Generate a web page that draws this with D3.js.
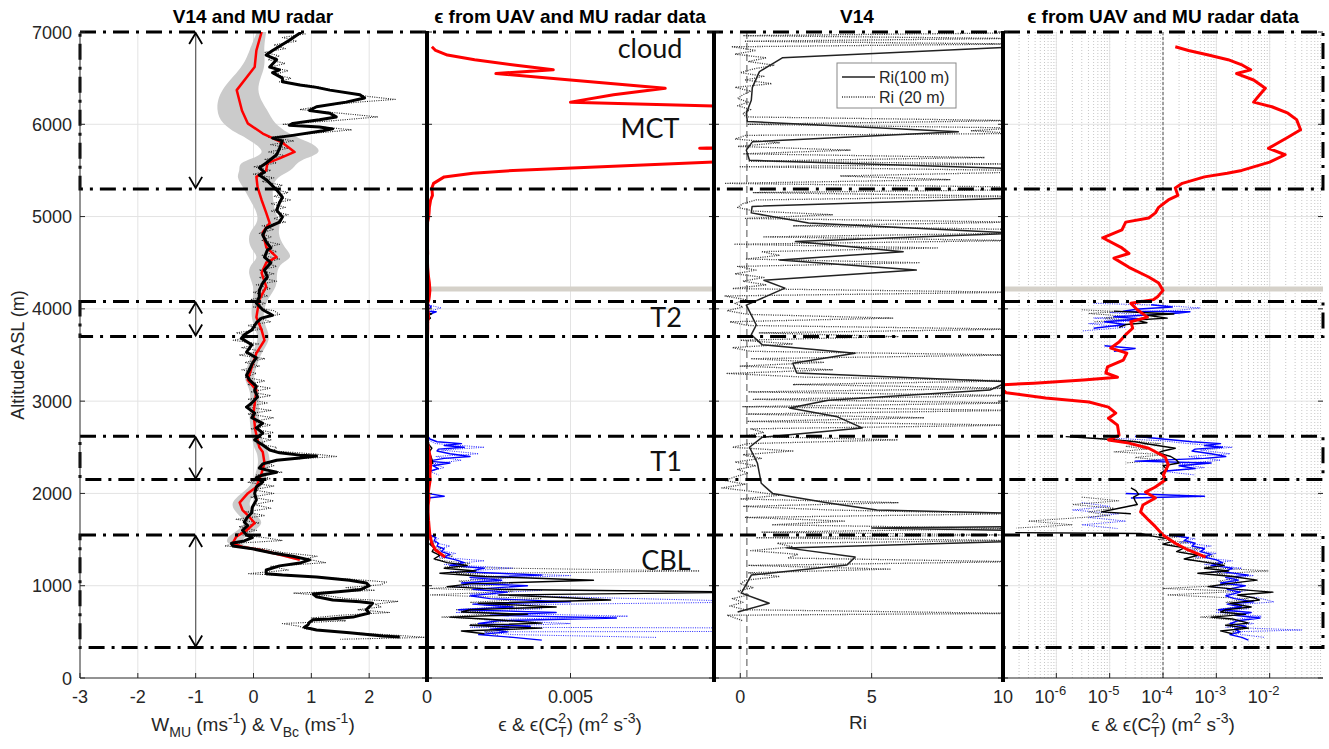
<!DOCTYPE html>
<html>
<head>
<meta charset="utf-8">
<script src="https://cdn.jsdelivr.net/npm/d3@7"></script>
<style>
  body { margin: 0; background: #fff; }
  svg { display: block; }
  text { font-family: "Liberation Sans", Arial, sans-serif; fill: #262626; }
</style>
</head>
<body>
<svg id="chart" width="1329" height="749"></svg>
<script>
// --- --- --- Data --- --- ---

const altTicks = [0, 1000, 2000, 3000, 4000, 5000, 6000, 7000];
const wTicks = [-3, -2, -1, 0, 1, 2];
const epsLinTicks = [0, 0.005];
const riTicks = [0, 5, 10];
const epsLogExps = [-6, -5, -4, -3, -2];

// layer boxes (bottom, top) in m ASL
const layerBoxes = [[5300, 7000], [3700, 4080], [2150, 2620], [330, 1550]];
const grayLineAlt = 4215;
const riCritical = 0.25;
const epsRef = 1e-4;

// annotations
const layerNames = ["cloud", "MCT", "T2", "T1", "CBL"];
const layerNameAlt = [6720, 5850, 3800, 2240, 1170];

// MU radar W: [alt, mean, std]
const wmu = [
  [7000,0.14,0.08],[6800,0.05,0.12],[6620,0.02,0.2],[6370,-0.29,0.3],[6150,-0.2,0.45],[6010,-0.1,0.45],
  [5900,0.16,0.45],[5850,0.33,0.45],[5800,0.5,0.5],[5700,0.71,0.5],[5630,0.45,0.45],[5580,0.24,0.5],
  [5500,0.22,0.45],[5430,0.05,0.35],[5320,0.07,0.25],[5180,0.14,0.2],[5040,0.22,0.15],[4930,0.28,0.2],
  [4830,0.16,0.25],[4670,0.22,0.3],[4560,0.4,0.3],[4500,0.22,0.25],[4390,0.14,0.25],[4240,0.22,0.2],
  [4100,0.1,0.12],[3910,0.05,0.1],[3770,0.14,0.1],[3660,0.19,0.1],[3520,0.05,0.08],[3370,-0.03,0.08],
  [3230,-0.1,0.08],[3120,0.05,0.08],[2870,0,0.08],[2690,0.03,0.08],[2500,0.1,0.1],[2450,0.16,0.1],
  [2330,0.19,0.1],[2220,0.14,0.1],[2070,0.05,0.1],[2000,-0.1,0.12],[1900,-0.24,0.15],[1820,-0.19,0.15],
  [1745,-0.07,0.15],[1680,0.02,0.15],[1600,-0.12,0.15],[1530,-0.3,0.15],[1460,-0.36,0.12],[1420,-0.19,0.1],
  [1390,0.1,0.1],[1330,0.5,0.1],[1280,0.8,0.1]
];

// UAV V_Bc, 100 m: [alt, value]
const vbc100 = [
  [7000,0.83],[6910,0.62],[6800,0.33],[6750,0.22],[6700,0.4],[6620,0.28],[6590,0.45],[6560,0.33],[6500,0.5],
  [6460,0.5],[6425,0.8],[6400,1.09],[6370,1.32],[6320,1.84],[6285,1.92],[6240,1.6],[6190,1.09],[6150,0.97],
  [6120,1.32],[6080,1.43],[6050,1.14],[6010,0.68],[5990,0.62],[5970,1.14],[5950,1.37],[5930,1.2],[5880,0.68],
  [5850,0.33],[5820,0.5],[5740,0.45],[5670,0.4],[5580,0.22],[5530,0.1],[5480,0.19],[5450,0.1],[5400,0.22],
  [5290,0.4],[5210,0.5],[5150,0.45],[5070,0.4],[4995,0.5],[4940,0.45],[4875,0.22],[4800,0.16],[4725,0.22],
  [4660,0.3],[4637,0.24],[4560,0.19],[4500,0.3],[4420,0.19],[4345,0.24],[4280,0.16],[4200,0.1],[4130,0.1],
  [4060,0.05],[3990,0.16],[3930,0.33],[3900,0.14],[3850,0.05],[3770,-0.03],[3720,-0.16],[3680,-0.21],
  [3610,-0.03],[3530,-0.12],[3470,0.05],[3410,-0.02],[3340,-0.07],[3280,-0.12],[3230,-0.07],[3160,0.05],
  [3120,0.02],[3045,0.07],[2980,-0.03],[2935,-0.12],[2870,0.02],[2820,-0.03],[2760,0.16],[2710,0.05],
  [2655,0.16],[2580,0.02],[2525,0.16],[2470,0.28],[2440,0.45],[2415,0.8],[2405,1.09],[2385,0.8],[2360,0.4],
  [2320,0.16],[2275,0.1],[2255,0.22],[2230,0.4],[2200,0.16],[2170,0.05],[2125,0.16],[2070,0.05],[2000,0.02],
  [1930,0.05],[1850,-0.02],[1790,-0.03],[1745,-0.1],[1690,-0.16],[1650,-0.1],[1600,-0.19],[1550,-0.12],
  [1520,-0.02],[1485,-0.16],[1460,-0.38],[1430,-0.36],[1400,-0.02],[1355,0.33],[1320,0.68],[1280,0.97],
  [1245,0.8],[1215,0.45],[1170,0.22],[1130,0.22],[1115,0.5],[1095,1.09],[1060,1.66],[1030,1.95],[1000,2.0],
  [955,1.84],[930,1.37],[910,1.03],[880,1.09],[845,1.37],[825,1.84],[810,2.06],[770,2.0],[740,1.95],[705,2.0],
  [660,1.72],[640,1.32],[630,1.03],[605,0.97],[575,0.94],[550,0.88],[520,1.09],[490,1.66],[455,2.24],[445,2.53]
];

// UAV V_Bc, 20 m
const vbc20 = [
  [6980,0.9],[6940,0.5],[6900,0.75],[6860,0.35],[6820,0.55],[6780,0.2],[6740,0.45],[6700,0.25],[6660,0.55],
  [6620,0.3],[6580,0.6],[6540,0.35],[6500,0.65],[6460,0.45],[6420,1.0],[6380,1.3],[6340,1.6],[6300,2.0],
  [6270,2.45],[6240,1.8],[6200,1.2],[6160,0.8],[6120,1.5],[6080,2.15],[6040,1.4],[6000,0.5],[5970,1.2],
  [5940,1.7],[5900,1.0],[5860,0.25],[5820,0.7],[5780,0.3],[5740,0.6],[5700,0.25],[5660,0.55],[5620,0.2],
  [5580,0.4],[5540,0.0],[5500,0.3],[5460,0.0],[5420,0.35],[5380,0.15],[5340,0.5],[5300,0.3],[5260,0.6],
  [5220,0.35],[5180,0.65],[5140,0.3],[5100,0.55],[5060,0.3],[5020,0.6],[4980,0.35],[4940,0.55],[4900,0.15],
  [4860,0.35],[4820,0.1],[4780,0.3],[4740,0.15],[4700,0.45],[4660,0.2],[4620,0.4],[4580,0.15],[4540,0.45],
  [4500,0.2],[4460,0.4],[4420,0.1],[4380,0.35],[4340,0.1],[4300,0.4],[4260,0.05],[4220,0.3],[4180,0.0],
  [4140,0.25],[4100,-0.05],[4060,0.2],[4020,0.0],[3980,0.35],[3940,0.45],[3900,0.1],[3860,0.3],[3820,-0.1],
  [3780,0.15],[3740,-0.3],[3700,0.0],[3660,-0.35],[3620,0.1],[3580,-0.2],[3540,0.15],[3500,-0.25],[3460,0.2],
  [3420,-0.15],[3380,0.1],[3340,-0.2],[3300,0.05],[3260,-0.15],[3220,0.2],[3180,-0.1],[3140,0.3],[3100,-0.05],
  [3060,0.3],[3020,-0.1],[2980,0.25],[2940,-0.15],[2900,0.3],[2860,-0.1],[2820,0.35],[2780,0.0],[2740,0.3],
  [2700,-0.05],[2660,0.35],[2620,0.0],[2580,0.3],[2540,0.05],[2500,0.4],[2460,0.35],[2430,1.0],[2400,1.45],
  [2370,0.6],[2340,0.2],[2300,0.35],[2260,0.1],[2230,0.5],[2200,0.05],[2160,0.3],[2120,-0.1],[2080,0.35],
  [2040,0.0],[2000,0.35],[1960,-0.05],[1920,0.35],[1880,0.0],[1840,0.3],[1800,-0.15],[1760,0.2],[1720,-0.3],
  [1680,0.1],[1640,-0.25],[1600,0.05],[1560,-0.3],[1520,0.2],[1490,0.5],[1460,-0.3],[1430,-0.5],[1400,0.2],
  [1360,0.5],[1320,1.1],[1290,0.9],[1250,1.25],[1210,0.3],[1170,0.6],[1130,-0.1],[1100,0.9],[1070,1.7],
  [1040,2.3],[1010,2.2],[980,1.6],[950,2.1],[920,0.7],[890,1.3],[860,1.6],[830,2.5],[800,2.1],[770,2.2],
  [740,1.8],[710,2.35],[680,1.5],[650,1.0],[620,1.6],[590,0.5],[560,0.8],[530,0.9],[500,1.4],[470,2.3],
  [440,3.0],[420,1.5]
];

// MU radar epsilon (m2 s-3)
const epsMU = [
  [6840,1.7e-4],[6800,3.0e-4],[6750,7.1e-4],[6700,1.66e-3],[6640,3.1e-3],[6590,4.4e-3],[6550,2.4e-3],
  [6480,5e-3],[6390,8.3e-3],[6320,6.5e-3],[6240,5e-3],[6190,1.1e-2],[6120,2.2e-2],[6050,3.2e-2],[5940,3.8e-2],
  [5860,2.2e-2],[5800,1.45e-2],[5740,9.5e-3],[5670,1.95e-2],[5590,1e-2],[5500,3e-3],[5470,1.6e-3],[5430,6e-4],
  [5360,2.3e-4],[5310,1.7e-4],[5230,1.9e-4],[5180,1.26e-4],[5100,8.3e-5],[5040,7.2e-5],[4985,5.4e-5],
  [4940,2e-5],[4855,1.7e-5],[4770,7.4e-6],[4660,1.7e-5],[4600,2.3e-5],[4550,1.2e-5],[4450,2.3e-5],
  [4345,5.4e-5],[4280,8.3e-5],[4200,1e-4],[4130,7.9e-5],[4100,6.6e-5],[4060,2.5e-5],[3990,3.3e-5],
  [3910,5.1e-5],[3860,2.5e-5],[3790,2.7e-5],[3720,2e-5],[3640,1.5e-5],[3575,1.05e-5],[3520,2.1e-5],
  [3445,1.8e-5],[3370,9.1e-6],[3305,8.5e-6],[3260,1.4e-5],[3230,3.2e-6],[3195,3.8e-7],[3175,8e-8],
  [3090,1.15e-7],[3035,6.3e-7],[2990,4.1e-6],[2935,9.5e-6],[2870,1.3e-5],[2815,9.5e-6],[2740,1.4e-5],
  [2630,1.5e-5],[2580,9.5e-6],[2545,2.3e-5],[2490,5.4e-5],[2395,1.1e-4],[2310,1.26e-4],[2200,1.02e-4],
  [2145,1.1e-4],[2070,7.2e-5],[2015,4.7e-5],[1950,7.2e-5],[1875,4.2e-5],[1800,3.8e-5],[1710,5.4e-5],
  [1640,7.2e-5],[1550,1e-4],[1460,1.7e-4],[1390,2.9e-4],[1310,6.3e-4]
];

// UAV epsilon, 100 m (null = gap)
const epsUav100 = [
  [3975,1.2e-5],[3960,4e-5],[3945,1.6e-4],[3930,5e-5],[3900,1.2e-4],[3880,3e-5],[3850,5e-5],[3830,2e-5],[3800,1.5e-5], null,
  [2615,1.5e-6],[2590,8e-6],[2560,3e-5],[2530,6e-5],[2490,1.7e-4],[2460,1e-4],[2440,8e-5],[2400,1.4e-4],[2360,1.8e-4],
  [2330,2e-4],[2300,1e-4],[2260,1.2e-4],[2220,9e-5],[2180,1.1e-4],[2150,9e-5], null,
  [2060,2.5e-5],[2030,3.1e-5],[1990,3.5e-5],[1960,2.8e-5],[1920,3e-5],[1880,3.3e-5],[1840,1.5e-5],[1800,7e-6],[1780,2.5e-5], null,
  [1575,1.7e-7],[1565,4e-5],[1540,6e-5],[1510,1.2e-4],[1480,1.5e-4],[1450,1e-4],[1410,2.5e-4],[1370,1.8e-4],[1330,4.5e-4],
  [1290,2.5e-4],[1250,7e-4],[1220,1.4e-3],[1190,6e-4],[1160,1.7e-3],[1135,4.5e-4],[1100,2e-3],[1060,5.8e-3],[1020,1.5e-3],
  [990,7e-4],[960,2.5e-3],[930,1.15e-2],[900,2.5e-3],[870,4.9e-3],[845,6.4e-3],[810,1.8e-3],[770,4.5e-3],[740,1.5e-3],
  [715,1.2e-3],[690,3.5e-3],[660,8e-4],[640,2e-3],[595,4e-3],[570,1.5e-3],[540,4e-3],[510,1.2e-3],[480,2e-3]
];

// UAV epsilon from C_T^2, 100 m
const epsCt100 = [
  [4045,6e-5],[4020,1.5e-4],[3995,3e-5],[3975,1.8e-5],[3968,3.2e-4],[3955,2e-4],[3935,6e-5],[3915,1.2e-5],[3890,4e-5],
  [3860,8e-6],[3830,2e-5],[3790,5e-6], null,
  [3600,8e-6],[3570,3e-5],[3540,1.2e-5], null,
  [2620,3e-5],[2590,1e-4],[2560,3.5e-4],[2540,1.2e-3],[2520,6e-4],[2500,1.3e-3],[2480,4e-4],[2460,3.5e-4],[2430,8e-4],
  [2400,1.5e-3],[2380,6e-4],[2350,3e-5],[2330,8e-4],[2300,2e-4],[2270,4e-4],[2240,1e-4], null,
  [2000,2e-5],[1970,6e-4],[1950,2.5e-5], null,
  [1545,1.5e-4],[1520,3e-4],[1490,2.5e-4],[1460,4e-4],[1430,3.5e-4],[1400,6e-4],[1370,5e-4],[1340,8e-4],[1310,6e-4],
  [1280,1e-3],[1250,1.3e-3],[1220,8e-4],[1190,2e-3],[1150,1.4e-3],[1115,4e-3],[1090,1.5e-3],[1060,2.6e-3],[1030,1.2e-3],
  [1000,3.5e-3],[960,1.6e-3],[930,2.8e-3],[890,1.5e-3],[860,2.2e-3],[825,5e-3],[800,1.6e-3],[770,3e-3],[740,1.1e-3],
  [710,4.5e-3],[680,2.2e-3],[650,6.6e-3],[620,2.5e-3],[590,1.8e-3],[560,3.6e-3],[530,2.2e-3],[500,2.8e-3],[470,1.8e-3],
  [440,3e-3],[410,4e-3]
];

// UAV epsilon, 20 m
const epsUav20 = [
  [3990,3e-6],[3970,1.5e-5],[3950,4e-6],[3920,2e-5],[3900,8e-6],[3880,2.5e-5],[3860,5e-6], null,
  [2600,4e-6],[2570,2.5e-5],[2540,9e-5],[2510,2e-5],[2480,5e-5],[2450,1.2e-5],[2420,1.1e-4],[2390,3e-5],[2360,9e-5],[2330,2e-5], null,
  [1960,3e-6],[1920,1.5e-5],[1880,2e-6],[1840,1.2e-5],[1800,4e-6],[1760,1e-5],[1700,3e-7],[1660,2e-6],[1625,1.8e-7], null,
  [1560,6e-5],[1530,2e-4],[1500,8e-5],[1470,3e-4],[1440,1.2e-4],[1400,5e-4],[1360,2e-4],[1320,9e-4],[1280,3e-4],
  [1240,1.5e-3],[1200,6e-4],[1160,9.5e-3],[1130,1e-3],[1090,3e-3],[1050,1.1e-3],[1010,2.5e-3],[970,1e-4],[940,3e-3],
  [900,1.2e-4],[860,4e-3],[820,1.5e-3],[780,3e-3],[740,1e-3],[700,2.5e-3],[660,5e-4],[620,3e-3],[580,1.5e-3],
  [540,3.5e-3],[500,2e-3],[460,2.5e-3]
];

// UAV epsilon from C_T^2, 20 m
const epsCt20 = [
  [4060,5e-6],[4040,8e-5],[4010,5e-4],[3985,2e-4],[3960,1e-5],[3930,6e-5],[3900,5e-6],[3870,3e-5],[3840,4e-6],
  [3800,2e-5],[3760,3e-6], null,
  [2600,1e-5],[2570,1e-4],[2540,3e-4],[2500,2e-3],[2470,5e-4],[2430,1.8e-3],[2400,3e-4],[2360,1.2e-3],[2320,2e-4],
  [2280,6e-4],[2240,1e-4],[2200,4e-4], null,
  [1900,3e-6],[1860,1e-5],[1820,2e-6],[1780,1.5e-5],[1740,4e-6],[1700,2e-5],[1660,3e-6],[1620,1.4e-5], null,
  [1550,1e-4],[1510,4e-4],[1470,2e-4],[1430,8e-4],[1390,3e-4],[1350,1e-3],[1310,4e-4],[1270,2e-3],[1230,6e-4],
  [1190,3e-3],[1150,8e-4],[1110,5e-3],[1070,1.5e-3],[1030,3e-3],[990,8e-4],[950,4e-3],[910,1.5e-3],[870,6e-3],
  [825,1.2e-2],[790,2e-3],[750,4e-3],[710,1e-3],[670,7e-3],[630,2e-3],[590,5e-3],[550,1.5e-3],[520,4e-2],
  [500,2e-3],[470,3e-3],[440,8e-3]
];

// Richardson number
const ri100 = [
  [6840,10.5],[6720,1.6],[6570,0.73],[6400,0.46],[6260,0.42],[6120,0.23],[6030,0.27],[5920,8.3],[5810,0.46],
  [5720,0.23],[5610,0.35],[5520,10.5],[5200,10.5],[5110,0.45],[5040,0.42],[4930,2.6],[4820,10.5],[4730,2.1],
  [4620,6.2],[4530,1.5],[4420,6.7],[4310,0.9],[4225,1.7],[4040,0.23],[3825,0.61],[3720,0.42],[3610,0.84],
  [3520,4.37],[3410,2.0],[3305,2.15],[3210,10.2],[3120,9.5],[3010,3.35],[2925,1.88],[2830,3.7],[2710,4.64],
  [2610,0.84],[2500,0.35],[2330,0.65],[2110,0.8],[2000,1.23],[1900,3.3],[1820,5.2],[1785,10.5],[1640,10.5],
  [1625,5.0],[1600,10.5],[1480,10.5],[1410,1.76],[1310,4.37],[1225,4.06],[1115,0.42],[920,0.04],[810,1.1],[715,-0.1]
];

const ri20 = [
  [6990,10.5],[6960,0.1],[6930,10.5],[6900,0.2],[6870,10.5],[6840,-0.3],[6800,0.6],[6760,-0.2],[6720,1.0],
  [6680,0.3],[6640,1.3],[6600,0.5],[6560,0.0],[6520,0.9],[6480,0.2],[6440,1.2],[6400,-0.2],[6360,0.4],[6320,0.1],
  [6280,-0.1],[6240,0.3],[6200,-0.1],[6160,0.4],[6120,0.1],[6080,0.2],[6040,10.5],[6000,0.3],[5960,10.5],
  [5930,8.8],[5900,10.5],[5880,0.2],[5840,-0.2],[5800,1.5],[5760,-0.1],[5720,4.2],[5680,0.1],[5640,9.3],
  [5600,0.3],[5570,10.5],[5540,0.0],[5500,10.5],[5480,10.5],[5440,3.8],[5400,8.0],[5360,-0.6],[5320,10.5],
  [5290,10.5],[5260,0.5],[5220,10.5],[5180,0.6],[5140,0.1],[5100,-0.1],[5060,0.5],[5020,3.5],[4980,0.2],
  [4940,10.5],[4900,2.0],[4860,10.5],[4820,10.5],[4780,0.9],[4740,10.5],[4700,-0.2],[4660,7.5],[4620,0.8],
  [4580,1.5],[4540,0.2],[4500,6.8],[4460,-0.1],[4420,0.6],[4380,-0.2],[4340,0.9],[4300,0.1],[4260,1.0],
  [4220,-0.3],[4180,10.5],[4140,-0.6],[4100,0.2],[4060,-0.2],[4020,0.1],[3980,-0.5],[3940,0.3],[3900,5.8],
  [3860,-0.4],[3820,0.3],[3780,10.5],[3740,0.7],[3700,6.0],[3660,0.0],[3620,2.0],[3580,-0.3],[3540,0.4],
  [3500,10.5],[3460,0.4],[3420,3.2],[3380,0.0],[3340,3.5],[3300,-0.5],[3260,2.5],[3220,10.5],[3180,2.0],
  [3140,10.5],[3100,0.3],[3060,10.5],[3020,0.5],[2980,10.5],[2940,0.1],[2900,10.5],[2860,0.2],[2820,7.0],
  [2780,0.3],[2740,10.5],[2700,0.4],[2660,0.9],[2620,0.1],[2580,6.0],[2540,0.3],[2500,-0.3],[2460,2.0],
  [2420,0.1],[2380,0.8],[2340,-0.2],[2300,0.6],[2260,-0.1],[2220,0.3],[2180,-0.2],[2140,-0.6],[2100,0.2],
  [2060,-0.7],[2020,0.5],[1980,1.5],[1940,0.0],[1900,6.0],[1860,0.1],[1820,3.5],[1780,10.5],[1740,0.2],
  [1700,4.0],[1660,1.2],[1620,10.5],[1580,0.8],[1550,10.5],[1520,0.6],[1490,10.5],[1460,1.4],[1420,2.0],
  [1380,0.4],[1340,2.2],[1300,1.8],[1260,10.5],[1220,0.3],[1180,5.7],[1140,0.3],[1100,1.5],[1060,0.2],
  [1020,0.0],[980,0.5],[940,-0.1],[900,0.3],[860,-0.3],[820,0.1],[780,-0.4],[740,0.2],[700,10.5],[680,-0.5],
  [650,-0.2],[620,0.1]
];

// --- --- --- Scales --- --- ---

const svg = d3.select("#chart");
const plotTop = 32, plotBottom = 678;

const y = d3.scaleLinear().domain([0, 7000]).range([plotBottom, plotTop]);
const x1 = d3.scaleLinear().domain([-3, 3]).range([80, 427]);
const x2 = d3.scaleLinear().domain([0, 0.01]).range([427, 714]);
const x3 = d3.scaleLinear().domain([-1, 10]).range([714, 1003]);
const x4 = d3.scaleLog().domain([1e-7, 1e-1]).range([1003, 1323]);

const panels = [
  { id: "p1", x: x1, grid: [-2, -1, 0, 1, 2] },
  { id: "p2", x: x2, grid: [0.005] },
  { id: "p3", x: x3, grid: [0, 5] },
  { id: "p4", x: x4, grid: epsLogExps.map(e => Math.pow(10, e)) }
];

const defs = svg.append("defs");
panels.forEach(p => {
  const [a, b] = p.x.range();
  defs.append("clipPath").attr("id", "clip-" + p.id)
    .append("rect").attr("x", a).attr("y", plotTop).attr("width", b - a).attr("height", plotBottom - plotTop);
});

defs.append("marker")
  .attr("id", "arrow")
  .attr("viewBox", "-12 -8 14 16")
  .attr("refX", 0).attr("refY", 0)
  .attr("markerWidth", 14).attr("markerHeight", 16)
  .attr("markerUnits", "userSpaceOnUse")
  .attr("orient", "auto-start-reverse")
  .append("path")
  .attr("d", "M-11,-6.5 L0,0 L-11,6.5")
  .attr("fill", "none").attr("stroke", "#000").attr("stroke-width", 1.8);

// --- --- --- Grid --- --- ---

const gridG = svg.append("g");
panels.forEach(p => {
  const [a, b] = p.x.range();
  if (p.id === "p4") {
    gridG.append("g").selectAll("line")
      .data(x4.ticks().filter(v => v > 1e-7 && v < 1e-1))
      .join("line")
      .attr("x1", d => x4(d)).attr("x2", d => x4(d))
      .attr("y1", plotTop).attr("y2", plotBottom)
      .attr("stroke", "#b8b8b8").attr("stroke-width", 0.8).attr("stroke-dasharray", "1,2");
  }
  gridG.append("g").selectAll("line")
    .data(altTicks.slice(1, -1))
    .join("line")
    .attr("x1", a).attr("x2", b)
    .attr("y1", d => y(d)).attr("y2", d => y(d))
    .attr("stroke", "#e3e3e3").attr("stroke-width", 1);
  gridG.append("g").selectAll("line")
    .data(p.grid)
    .join("line")
    .attr("x1", d => p.x(d)).attr("x2", d => p.x(d))
    .attr("y1", plotTop).attr("y2", plotBottom)
    .attr("stroke", "#e3e3e3").attr("stroke-width", 1);
});

// --- --- --- Series helpers --- --- ---

function lineFor(xs) {
  return d3.line()
    .defined(d => d !== null)
    .x(d => xs(d[1]))
    .y(d => y(d[0]));
}

function drawSeries(panelId, xs, data, color, width, dash) {
  svg.append("path")
    .datum(data)
    .attr("clip-path", `url(#clip-${panelId})`)
    .attr("d", lineFor(xs))
    .attr("fill", "none")
    .attr("stroke", color)
    .attr("stroke-width", width)
    .attr("stroke-linejoin", "round")
    .attr("stroke-dasharray", dash || null);
}

// --- --- --- Panel 1: W_MU & V_Bc --- --- ---

svg.append("path")
  .datum(wmu)
  .attr("clip-path", "url(#clip-p1)")
  .attr("d", d3.area()
    .y(d => y(d[0]))
    .x0(d => x1(d[1] - d[2]))
    .x1(d => x1(d[1] + d[2]))
    .curve(d3.curveBasis))
  .attr("fill", "#cbcbcb");

drawSeries("p1", x1, vbc20, "#222", 1.1, "1,1.3");
drawSeries("p1", x1, wmu, "#ff0000", 2.5);
drawSeries("p1", x1, vbc100, "#000", 3);

// --- --- --- Panel 2 & 4: epsilon --- --- ---

[["p2", x2], ["p4", x4]].forEach(([pid, xs]) => {
  svg.append("line")
    .attr("x1", xs.range()[0]).attr("x2", xs.range()[1])
    .attr("y1", y(grayLineAlt)).attr("y2", y(grayLineAlt))
    .attr("stroke", "#d5d1c9").attr("stroke-width", 5);
  if (pid === "p4") {
    svg.append("line")
      .attr("x1", x4(epsRef)).attr("x2", x4(epsRef))
      .attr("y1", plotTop).attr("y2", plotBottom)
      .attr("stroke", "#555").attr("stroke-width", 1).attr("stroke-dasharray", "3,2");
  }
  drawSeries(pid, xs, epsCt20, "#2a2aff", 1, "1,1.3");
  drawSeries(pid, xs, epsUav20, "#333", 1, "1,1.3");
  drawSeries(pid, xs, epsCt100, "#0000ff", 1.4);
  drawSeries(pid, xs, epsUav100, "#000", 1.4);
  drawSeries(pid, xs, epsMU, "#ff0000", 3);
});

// --- --- --- Panel 3: Ri --- --- ---

svg.append("line")
  .attr("x1", x3(riCritical)).attr("x2", x3(riCritical))
  .attr("y1", plotTop).attr("y2", plotBottom)
  .attr("stroke", "#8a8a8a").attr("stroke-width", 1.5).attr("stroke-dasharray", "7,4");
drawSeries("p3", x3, ri20, "#333", 1.3, "1,1.3");
drawSeries("p3", x3, ri100, "#222", 1.5);

// legend
const lg = svg.append("g");
lg.append("rect").attr("x", 837).attr("y", 63).attr("width", 119).attr("height", 45)
  .attr("fill", "#fff").attr("stroke", "#888").attr("stroke-width", 1);
lg.append("line").attr("x1", 842).attr("x2", 875).attr("y1", 77).attr("y2", 77)
  .attr("stroke", "#222").attr("stroke-width", 1.5);
lg.append("line").attr("x1", 842).attr("x2", 875).attr("y1", 97).attr("y2", 97)
  .attr("stroke", "#333").attr("stroke-width", 1.3).attr("stroke-dasharray", "1,1.3");
lg.append("text").attr("x", 879).attr("y", 83).attr("font-size", 16).text("Ri(100 m)");
lg.append("text").attr("x", 879).attr("y", 103).attr("font-size", 16).text("Ri (20 m)");

// --- --- --- Layer boxes and arrows --- --- ---

svg.append("g").selectAll("rect")
  .data(layerBoxes)
  .join("rect")
  .attr("x", x1(-3)).attr("width", x4(1e-1) - x1(-3))
  .attr("y", d => y(d[1])).attr("height", d => y(d[0]) - y(d[1]))
  .attr("fill", "none").attr("stroke", "#000").attr("stroke-width", 3)
  .attr("stroke-dasharray", "16,7,3,7");

svg.append("g").selectAll("line")
  .data(layerBoxes)
  .join("line")
  .attr("x1", x1(-1)).attr("x2", x1(-1))
  .attr("y1", d => y(d[1]) + 1).attr("y2", d => y(d[0]) - 1)
  .attr("stroke", "#666").attr("stroke-width", 1.3)
  .attr("marker-start", "url(#arrow)").attr("marker-end", "url(#arrow)");

// layer names
svg.append("g").selectAll("text")
  .data(layerNames)
  .join("text")
  .attr("x", (d, i) => i < 2 ? 650 : 666)
  .attr("y", (d, i) => y(layerNameAlt[i]))
  .attr("text-anchor", "middle")
  .attr("font-size", 27)
  .style("fill", "#111")
  .style("font-family", "Lato, 'Open Sans', sans-serif")
  .text(d => d);

// --- --- --- Axes frame --- --- ---

const axG = svg.append("g");
axG.append("line").attr("x1", 80).attr("x2", 1323).attr("y1", plotBottom).attr("y2", plotBottom)
  .attr("stroke", "#262626").attr("stroke-width", 1);
axG.append("line").attr("x1", 80).attr("x2", 80).attr("y1", plotTop).attr("y2", plotBottom)
  .attr("stroke", "#262626").attr("stroke-width", 1);

// y ticks on each panel edge
const edges = [[80, 1], [427, -1], [427, 1], [714, -1], [714, 1], [1003, -1], [1003, 1], [1323, -1]];
edges.forEach(([ex, dir]) => {
  axG.append("g").selectAll("line")
    .data(altTicks)
    .join("line")
    .attr("x1", ex).attr("x2", ex + dir * 5)
    .attr("y1", d => y(d)).attr("y2", d => y(d))
    .attr("stroke", "#262626").attr("stroke-width", 1);
});

// x ticks
[[x1, wTicks.concat([3])], [x2, epsLinTicks], [x3, riTicks], [x4, epsLogExps.map(e => Math.pow(10, e))]].forEach(([xs, t]) => {
  axG.append("g").selectAll("line")
    .data(t)
    .join("line")
    .attr("x1", d => xs(d)).attr("x2", d => xs(d))
    .attr("y1", plotBottom).attr("y2", plotBottom - 5)
    .attr("stroke", "#262626").attr("stroke-width", 1);
});

// thick panel dividers
axG.append("g").selectAll("line")
  .data([x2.range()[0], x2.range()[1], x3.range()[1]])
  .join("line")
  .attr("x1", d => d).attr("x2", d => d)
  .attr("y1", plotTop - 1).attr("y2", plotBottom + 4)
  .attr("stroke", "#000").attr("stroke-width", 4);

// --- --- --- Labels --- --- ---

const labG = svg.append("g");
labG.selectAll(".yl")
  .data(altTicks)
  .join("text")
  .attr("x", 72).attr("y", d => y(d) + 6.5)
  .attr("text-anchor", "end").attr("font-size", 18)
  .text(d => d);

labG.append("text")
  .attr("transform", `translate(24,${(plotTop + plotBottom) / 2}) rotate(-90)`)
  .attr("text-anchor", "middle").attr("font-size", 18)
  .text("Altitude ASL (m)");

const tickY = 703;
[[x1, wTicks], [x2, epsLinTicks], [x3, riTicks]].forEach(([xs, t]) => {
  labG.append("g").selectAll("text")
    .data(t)
    .join("text")
    .attr("x", d => xs(d)).attr("y", tickY)
    .attr("text-anchor", "middle").attr("font-size", 18)
    .text(d => d);
});

labG.append("g").selectAll("text")
  .data(epsLogExps)
  .join("text")
  .attr("x", d => x4(Math.pow(10, d)) - 6).attr("y", tickY)
  .attr("text-anchor", "middle").attr("font-size", 18)
  .each(function (d) {
    const t = d3.select(this);
    t.append("tspan").text("10");
    t.append("tspan").attr("dy", -8).attr("font-size", 13).text(d);
  });

// titles
const titles = [["V14 and MU radar", 253], ["\u03f5 from UAV and MU radar data", 570], ["V14", 857], ["\u03f5 from UAV and MU radar data", 1163]];
labG.selectAll(".title")
  .data(titles)
  .join("text")
  .attr("x", d => d[1]).attr("y", 23)
  .attr("text-anchor", "middle").attr("font-size", 19).attr("font-weight", "bold")
  .style("fill", "#000")
  .text(d => d[0]);

// axis labels with sub/superscripts
function richLabel(cx, cy, parts) {
  const t = labG.append("text").attr("x", cx).attr("y", cy)
    .attr("text-anchor", "middle").attr("font-size", 19);
  let shift = 0;
  parts.forEach(([s, kind, dx]) => {
    const target = kind === "sub" ? 6 : kind === "sup" ? -8 : 0;
    const ts = t.append("tspan").attr("dy", target - shift).text(s);
    if (kind !== "n") ts.attr("font-size", 14);
    if (dx) ts.attr("dx", dx);
    shift = target;
  });
  return t;
}

richLabel(253, 731, [["W", "n"], ["MU", "sub"], [" (ms", "n"], ["-1", "sup"], [") & V", "n"], ["Bc", "sub"], [" (ms", "n"], ["-1", "sup"], [")", "n"]]);
const epsParts = [["\u03f5 & \u03f5(C", "n"], ["2", "sup"], ["T", "sub", -8], [") (m", "n"], ["2", "sup"], [" s", "n"], ["-3", "sup"], [")", "n"]];
richLabel(570, 731, epsParts);
richLabel(1163, 731, epsParts);
labG.append("text").attr("x", 858).attr("y", 729).attr("text-anchor", "middle").attr("font-size", 19).text("Ri");
</script>
</body>
</html>
